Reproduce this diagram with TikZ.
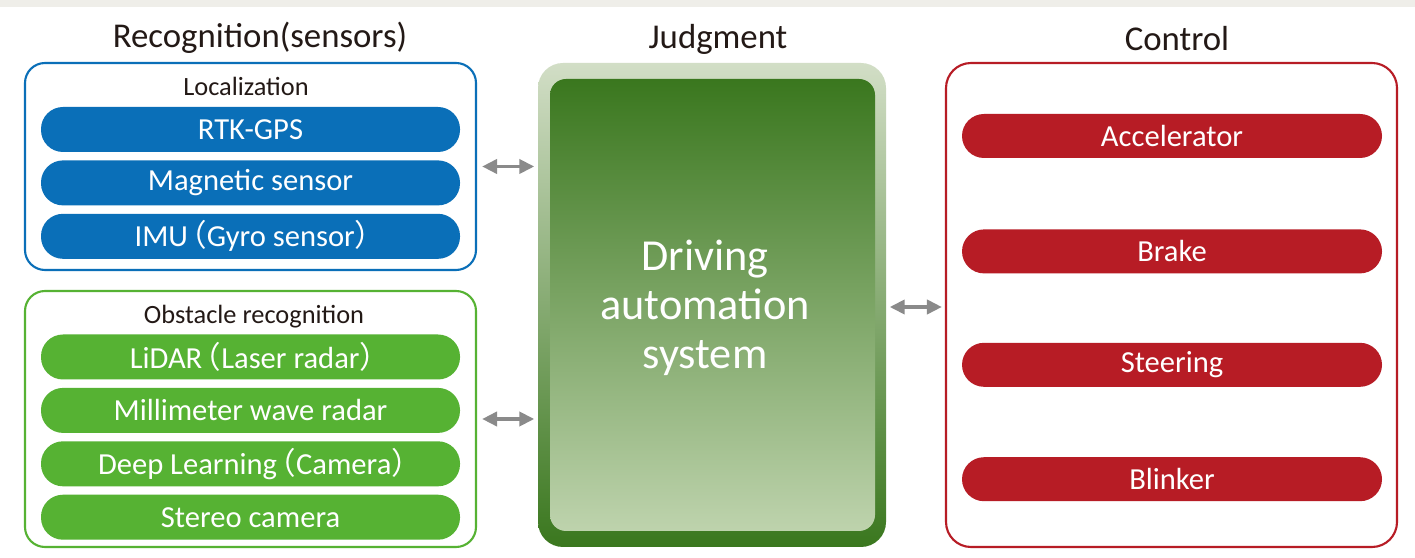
\documentclass[tikz,border=0pt]{standalone}
\usepackage{fontspec}
\setmainfont{Carlito}
\newfontfamily\cjk{Noto Sans CJK JP}
\usetikzlibrary{positioning,arrows.meta}

\definecolor{txtdark}{HTML}{231916}
\definecolor{locblue}{HTML}{0A6FB8}
\definecolor{obsgreen}{HTML}{56B233}
\definecolor{ctrlred}{HTML}{B71C25}
\definecolor{arrgray}{HTML}{8A8A8A}
\definecolor{stripgray}{HTML}{EFEEE9}
\definecolor{judgelight}{HTML}{D2DEC6}
\definecolor{judgedark}{HTML}{3A771E}
\definecolor{judgepale}{HTML}{BED3AD}

\newcommand{\lpar}{\makebox[0.62em][r]{\cjk（}}
\newcommand{\rpar}{\makebox[0.38em][l]{\cjk）}}

\begin{document}
\begin{tikzpicture}[node distance=0.07cm,
  title/.style={font=\fontsize{9.9}{11}\selectfont,text=txtdark,anchor=base},
  sublabel/.style={font=\fontsize{7.5}{8}\selectfont,text=txtdark},
  frame/.style={draw=#1,line width=0.6pt,rounded corners=0.2cm,minimum width=4.51cm},
  pill/.style={fill=#1,rounded corners=0.22cm,minimum width=4.19cm,minimum height=0.45cm,
    text=white,font=\fontsize{8.7}{10}\selectfont,inner sep=0pt},
  link/.style={arrgray,line width=1.1pt,{Triangle[length=0.15cm,width=0.14cm]}-{Triangle[length=0.15cm,width=0.14cm]}}]
  % canvas
  \fill[white] (0,0) rectangle (14.15,-5.58);
  \fill[stripgray] (0,0) rectangle (14.15,-0.07);

  % column titles
  \node[title] (trec) at (2.60,-0.475) {Recognition(sensors)};
  \node[title] (tjud) at (7.18,-0.49) {Judgment};
  \node[title] (tctl) at (11.77,-0.51) {Control};

  % recognition
  \node[frame=locblue,minimum height=2.07cm] (loc) at (2.505,-1.665) {};
  \node[sublabel] (locl) at (2.46,-0.86) {Localization};
  \node[pill=locblue] (rtk) at (2.505,-1.295) {RTK-GPS};
  \node[pill=locblue,below=of rtk] (mag) {Magnetic sensor};
  \node[pill=locblue,below=of mag] (imu) {IMU\lpar Gyro sensor\rpar};

  \node[frame=obsgreen,minimum height=2.56cm] (obs) at (2.505,-4.19) {};
  \node[sublabel] (obsl) at (2.54,-3.17) {Obstacle recognition};
  \node[pill=obsgreen] (lidar) at (2.505,-3.57) {LiDAR\lpar Laser radar\rpar};
  \node[pill=obsgreen,below=of lidar] (mmw) {Millimeter wave radar};
  \node[pill=obsgreen,below=of mmw] (deep) {Deep Learning\lpar Camera\rpar};
  \node[pill=obsgreen,below=of deep] (stereo) {Stereo camera};

  % judgment
  \node[rounded corners=0.25cm,top color=judgelight,bottom color=judgedark,
    minimum width=3.48cm,minimum height=4.84cm] (judge) at (7.12,-3.05) {};
  \node[rounded corners=0.16cm,top color=judgedark,bottom color=judgepale,
    minimum width=3.25cm,minimum height=4.52cm] (jin) at (7.125,-3.05) {};
  \node[text=white,align=center,font=\fontsize{12.6}{13.9}\selectfont]
    (jtxt) at (7.05,-3.08) {Driving\\automation\\system};

  % control
  \node[frame=ctrlred,minimum height=4.84cm,rounded corners=0.25cm] (ctrl) at (11.715,-3.05) {};
  \node[pill=ctrlred,minimum width=4.20cm,minimum height=0.44cm] (acc) at (11.72,-1.36) {Accelerator};
  \node[pill=ctrlred,minimum width=4.20cm,minimum height=0.44cm,below=0.70cm of acc] (brk) {Brake};
  \node[pill=ctrlred,minimum width=4.20cm,minimum height=0.44cm,below=0.68cm of brk] (steer) {Steering};
  \node[pill=ctrlred,minimum width=4.20cm,minimum height=0.44cm,below=0.69cm of steer] (blink) {Blinker};

  % links
  \draw[link,shorten <=0.05cm,shorten >=0.03cm] (loc.east) -- (loc.east -| judge.west);
  \draw[link,shorten <=0.05cm,shorten >=0.03cm] (obs.east) -- (obs.east -| judge.west);
  \draw[link,shorten <=0.03cm,shorten >=0.03cm] ([yshift=-0.02cm]judge.east) -- ([yshift=-0.02cm]ctrl.west);
\end{tikzpicture}
\end{document}
